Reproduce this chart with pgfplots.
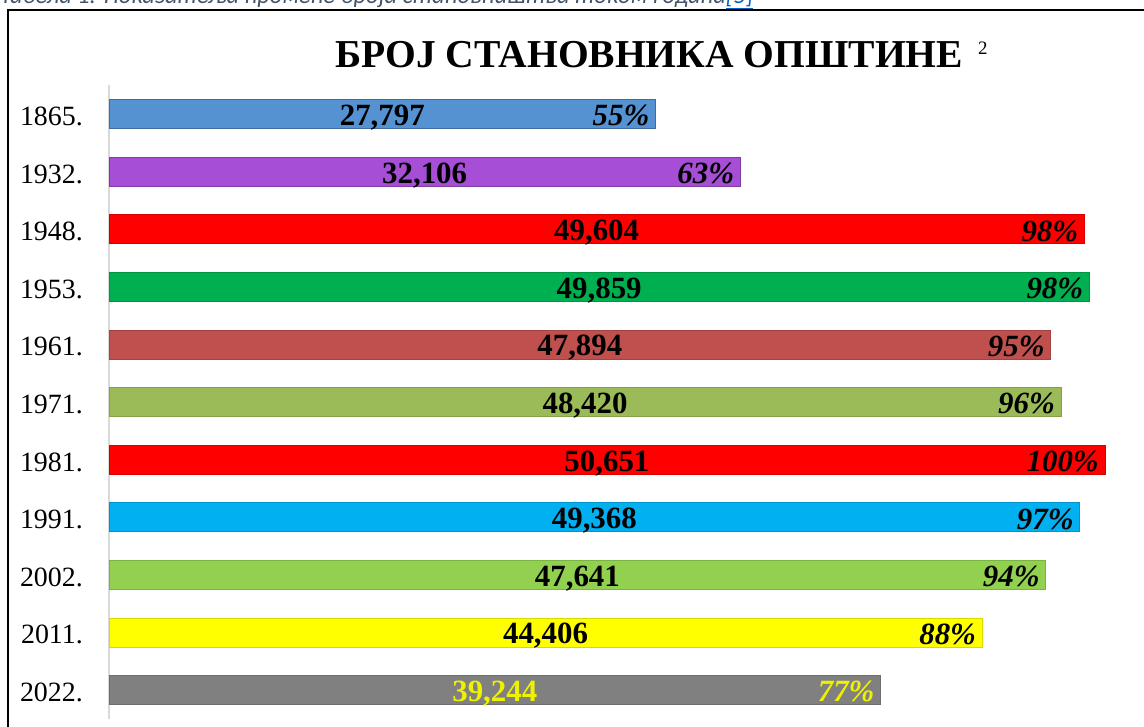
\documentclass[border=0pt]{standalone}
\usepackage{pgfplots}
\pgfplotsset{compat=1.18}
\usepackage{pgfplotstable}
\usepackage{fontspec}
\setmainfont{Liberation Serif}
\newfontfamily\capfont{Carlito}
\definecolor{c0}{HTML}{5592D2}
\definecolor{c1}{HTML}{A64FD6}
\definecolor{c2}{HTML}{FF0000}
\definecolor{c3}{HTML}{00B050}
\definecolor{c4}{HTML}{C0504D}
\definecolor{c5}{HTML}{9BBB59}
\definecolor{c6}{HTML}{FF0000}
\definecolor{c7}{HTML}{00B0F0}
\definecolor{c8}{HTML}{92D050}
\definecolor{c9}{HTML}{FFFF00}
\definecolor{c10}{HTML}{808080}
\definecolor{capcol}{HTML}{44546A}
\definecolor{linkblue}{HTML}{0563C1}
\definecolor{ylab}{HTML}{EEF200}
% pos: vertical position (1865 at the top)
\pgfplotstableread{
pos v lab pct
10 27797 27,797 55
9 32106 32,106 63
8 49604 49,604 98
7 49859 49,859 98
6 47894 47,894 95
5 48420 48,420 96
4 50651 50,651 100
3 49368 49,368 97
2 47641 47,641 94
1 44406 44,406 88
0 39244 39,244 77
}\pop
\begin{document}
\begin{tikzpicture}
\begin{axis}[
  scale only axis,
  width=1022.5bp, height=633.6bp,
  xmin=0, xmax=52000, ymin=-0.5, ymax=10.5,
  axis x line=none, axis y line*=left,
  y axis line style={draw=gray!30, line width=1.5bp},
  ytick={0,...,10},
  yticklabels={2022.,2011.,2002.,1991.,1981.,1971.,1961.,1953.,1948.,1932.,1865.},
  major tick length=0pt,
  yticklabel style={anchor=east, inner sep=0pt, xshift=-26bp, yshift=-2.5bp, font=\fontsize{28}{31}\selectfont},
  clip=false,
  mybar/.style={xbar, bar width=29bp, bar shift=0pt, line width=0.6bp},
  vlab/.style={only marks, mark=none, point meta=explicit symbolic,
    nodes near coords={\pgfplotspointmeta},
    nodes near coords style={anchor=base, inner sep=0pt, yshift=-11.5bp, font=\bfseries\fontsize{31}{34}\selectfont}},
  plab/.style={only marks, mark=none, point meta=explicit symbolic,
    nodes near coords={\pgfplotspointmeta\%},
    nodes near coords style={anchor=base east, inner sep=0pt, xshift=-6bp, yshift=-12bp, font=\bfseries\itshape\fontsize{31}{34}\selectfont}},
]
\addplot[mybar, fill=c0, draw=c0!75!black] coordinates {(27797,10)};
\addplot[mybar, fill=c1, draw=c1!75!black] coordinates {(32106,9)};
\addplot[mybar, fill=c2, draw=c2!85!black] coordinates {(49604,8)};
\addplot[mybar, fill=c3, draw=c3!85!black] coordinates {(49859,7)};
\addplot[mybar, fill=c4, draw=c4!85!black] coordinates {(47894,6)};
\addplot[mybar, fill=c5, draw=c5!85!black] coordinates {(48420,5)};
\addplot[mybar, fill=c6, draw=c6!85!black] coordinates {(50651,4)};
\addplot[mybar, fill=c7, draw=c7!85!black] coordinates {(49368,3)};
\addplot[mybar, fill=c8, draw=c8!85!black] coordinates {(47641,2)};
\addplot[mybar, fill=c9, draw=c9!85!black] coordinates {(44406,1)};
\addplot[mybar, fill=c10, draw=c10!85!black] coordinates {(39244,0)};
% value labels (centred on the bars)
\addplot[vlab, nodes near coords style={text=black}, skip coords between index={10}{11}] table[x expr=\thisrow{v}/2, y=pos, meta=lab]{\pop};
\addplot[vlab, nodes near coords style={text=ylab}, skip coords between index={0}{10}] table[x expr=\thisrow{v}/2, y=pos, meta=lab]{\pop};
% percentage labels
\addplot[plab, nodes near coords style={text=black}, skip coords between index={10}{11}] table[x=v, y=pos, meta=pct]{\pop};
\addplot[plab, nodes near coords style={text=ylab}, skip coords between index={0}{10}] table[x=v, y=pos, meta=pct]{\pop};
\coordinate (O) at (axis cs:0,-0.5);
\end{axis}
\begin{scope}[shift={(O)}]
\begin{scope}[xshift=-109bp, yshift=-8.2bp, x=1bp, y=1bp]
\node[anchor=base west, inner sep=0pt, text=capcol, font=\capfont\itshape\fontsize{24.5}{28}\selectfont] at (0,723) {Табела 1: Показатеља промене броја становништва током година\textcolor{linkblue}{\underline{[5]}}};
\draw[line width=2.5bp] (8,-10) -- (8,717) -- (1160,717);
\node[anchor=base west, inner sep=0pt, font=\bfseries\fontsize{39.7}{45}\selectfont] at (335,659) {БРОЈ СТАНОВНИКА ОПШТИНЕ\hspace{15bp}\raisebox{13bp}{\mdseries\fontsize{19}{21}\selectfont 2}};
\pgfresetboundingbox
\useasboundingbox (0,0) rectangle (1144,727);
\end{scope}
\end{scope}
\end{tikzpicture}
\end{document}
